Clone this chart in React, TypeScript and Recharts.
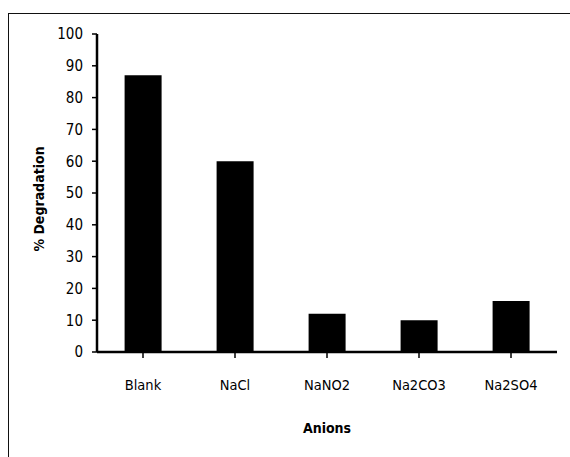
import { BarChart, Bar, XAxis, YAxis } from "recharts";

const anions = ["Blank", "NaCl", "NaNO2", "Na2CO3", "Na2SO4"];
const degradation = [87, 60, 12, 10, 16];
const yTicks = [0, 10, 20, 30, 40, 50, 60, 70, 80, 90, 100];

const data = anions.map((name, i) => ({ name, value: degradation[i] }));

const font = "'DejaVu Sans Condensed', 'Liberation Sans Narrow', 'Open Sans', sans-serif";

export default function App() {
  return (
    <div style={{ position: "absolute", left: 0, top: 0, width: 570, height: 457, overflow: "hidden", background: "#fff" }}>
      {/* outer frame: only top and left edges are visible in the crop */}
      <div
        style={{
          position: "absolute",
          left: 8,
          top: 13,
          width: 562,
          height: 444,
          borderTop: "1.5px solid #111",
          borderLeft: "1.5px solid #111",
          boxSizing: "border-box",
        }}
      />
      <div style={{ position: "absolute", left: 0, top: 0 }}>
        <BarChart
          width={570}
          height={457}
          data={data}
          margin={{ top: 34, right: 13, left: 0, bottom: 0 }}
          barCategoryGap="30%"
        >
          <XAxis
            dataKey="name"
            height={105}
            axisLine={{ stroke: "#000", strokeWidth: 2.5 }}
            tickLine={{ stroke: "#000", strokeWidth: 1.5 }}
            tickSize={6}
            tickMargin={22}
            tick={{ fill: "#000", fontSize: 14.5, fontFamily: font }}
            label={{
              content: ({ viewBox }: any) => (
                <text
                  x={viewBox.x + viewBox.width / 2}
                  y={viewBox.y + 81}
                  textAnchor="middle"
                  fontFamily={font}
                  fontSize={14}
                  fontWeight="bold"
                  fill="#000"
                >
                  Anions
                </text>
              ),
            }}
          />
          <YAxis
            width={97}
            domain={[0, 100]}
            ticks={yTicks}
            interval={0}
            axisLine={{ stroke: "#000", strokeWidth: 2.5 }}
            tickLine={{ stroke: "#000", strokeWidth: 1.5 }}
            tickSize={5}
            tickMargin={9}
            tick={{ fill: "#000", fontSize: 15, fontFamily: font }}
            label={{
              content: ({ viewBox }: any) => {
                const cx = 39;
                const cy = viewBox.y + viewBox.height / 2 + 6;
                return (
                  <text
                    x={cx}
                    y={cy}
                    transform={`rotate(-90 ${cx} ${cy})`}
                    textAnchor="middle"
                    dominantBaseline="central"
                    fontFamily={font}
                    fontSize={14}
                    fontWeight="bold"
                    fill="#000"
                  >
                    % Degradation
                  </text>
                );
              },
            }}
          />
          <Bar dataKey="value" fill="#000" isAnimationActive={false} />
        </BarChart>
      </div>
    </div>
  );
}
